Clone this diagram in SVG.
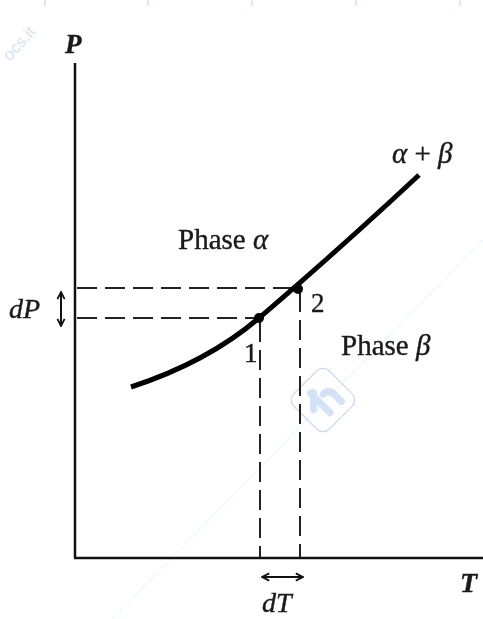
<svg xmlns="http://www.w3.org/2000/svg" width="483" height="619" viewBox="0 0 483 619">
<style>
.axis{stroke:#111;stroke-width:2.5;fill:none}
.dash{stroke:#222;stroke-width:2;fill:none;stroke-dasharray:20 8}
.curve{stroke:#000;stroke-width:5;fill:none;stroke-linecap:butt}
.lbl{font-family:"Liberation Serif",serif;fill:#1a1a1a;stroke:#1a1a1a;stroke-width:0.4}
.it{font-style:italic}
.wm{stroke:#b8d0ee;stroke-width:1.2;fill:none}
.arr{stroke:#111;stroke-width:2;fill:none}
</style>
<defs>
<marker id="ah" viewBox="0 0 10 10" refX="9" refY="5" markerWidth="9" markerHeight="10" markerUnits="userSpaceOnUse" orient="auto-start-reverse">
<path d="M1,1 L9,5 L1,9" fill="none" stroke="#111" stroke-width="2"/>
</marker>
</defs>
<rect width="483" height="619" fill="#fff"/>
<g id="watermark" opacity="0.8">
<path class="wm" d="M45,0V6M148,0V6M252,0V6M356,0V6M460,0V6"/>
<line x1="112" y1="619" x2="483" y2="240" stroke="#dce8f7" stroke-width="0.8"/>
<text x="0" y="0" transform="translate(10,62) rotate(-48)" font-family="Liberation Sans,sans-serif" font-size="17" fill="#c3d7f0">ocs.it</text>
<g transform="translate(323,400) rotate(-45)">
<rect x="-25" y="-25" width="50" height="50" rx="9" class="wm" stroke-width="2"/>
<rect x="-13" y="-11" width="7" height="24" rx="3.5" fill="#c9dcf3" transform="rotate(45)"/>
<path d="M-4,-14 L-4,14 M4,-4 Q12,-4 12,4 L12,14" stroke="#c9dcf3" stroke-width="7" fill="none" stroke-linecap="round"/>
</g>
</g>
<g id="axes">
<line class="axis" x1="75" y1="63" x2="75" y2="558"/>
<line class="axis" x1="74" y1="558" x2="483" y2="558"/>
</g>
<g id="connectors">
<line class="dash" x1="77" y1="288" x2="298" y2="288"/>
<line class="dash" x1="77" y1="318" x2="259" y2="318"/>
<line class="dash" x1="260" y1="322" x2="260" y2="557"/>
<line class="dash" x1="300" y1="292" x2="300" y2="557"/>
<line class="arr" x1="61" y1="292" x2="61" y2="326" marker-start="url(#ah)" marker-end="url(#ah)"/>
<line class="arr" x1="262" y1="577" x2="303" y2="577" marker-start="url(#ah)" marker-end="url(#ah)"/>
</g>
<g id="curve">
<path class="curve" d="M131,387 C180,371 225,347 259,318 S360,230 419,175"/>
</g>
<g id="point1"><circle cx="259" cy="318" r="5" fill="#000"/><text class="lbl" x="244" y="362" font-size="27">1</text></g>
<g id="point2"><circle cx="298" cy="289" r="5" fill="#000"/><text class="lbl" x="311" y="312" font-size="27">2</text></g>
<g id="labels">
<text class="lbl it" x="65" y="53" font-size="27" font-weight="bold">P</text>
<text class="lbl it" x="460" y="592" font-size="28" font-weight="bold">T</text>
<text class="lbl it" x="9" y="318" font-size="28">dP</text>
<text class="lbl it" x="262" y="612" font-size="28">dT</text>
<text class="lbl" x="178" y="249" font-size="29">Phase <tspan class="it">α</tspan></text>
<text class="lbl" x="341" y="355" font-size="29">Phase <tspan class="it">β</tspan></text>
<text class="lbl" x="392" y="163" font-size="29"><tspan class="it">α</tspan> + <tspan class="it">β</tspan></text>
</g>
</svg>
